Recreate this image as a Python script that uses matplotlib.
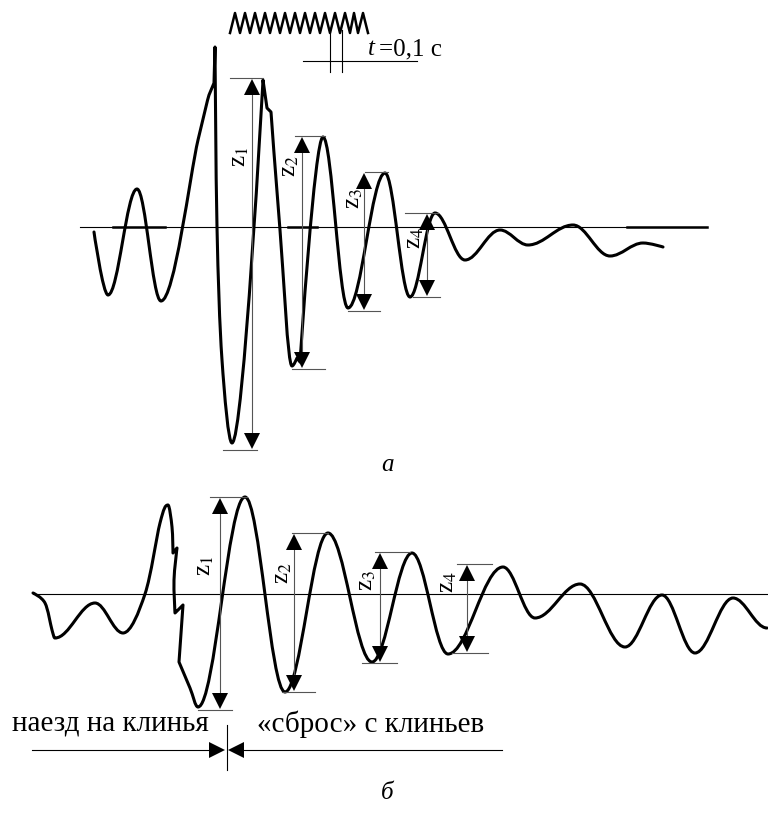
import numpy as np
import matplotlib
matplotlib.use("Agg")
import matplotlib.pyplot as plt
from matplotlib.path import Path
from matplotlib.patches import PathPatch

plt.rcParams['font.family'] = ['Liberation Serif', 'DejaVu Serif']
plt.rcParams['mathtext.fontset'] = 'stix'

# oscillogram "a": vertices (x, y in picture pixels) and vertex kind
# e = extremum (flat tangent), p = smooth pass-through, k = corner
a_x = [94, 108, 137, 161, 198, 209, 214, 215, 217, 222, 232, 263, 267, 271, 280, 292,
       297, 300, 323, 348, 385, 410, 435, 465, 500, 528, 573, 610, 643, 663]
a_y = [232, 295, 189, 301, 140, 95, 83, 47, 227, 360, 443, 80, 108, 112, 230, 366,
       358, 362, 137, 308, 173, 297, 213, 260, 230, 245, 225, 256, 243, 247]
a_kind = ['k', 'e', 'e', 'e', 'p', 'k', 'k', 'k', 'p', 'p', 'e', 'k', 'k', 'k', 'p', 'e',
          'k', 'k', 'e', 'e', 'e', 'e', 'e', 'e', 'e', 'e', 'e', 'e', 'e', 'k']

# oscillogram "б"
b_x = [33, 45, 52, 55, 95, 123, 145, 160, 168, 172, 173, 177, 174, 175, 183, 179,
       190, 198, 245, 285, 328, 372, 412, 448, 503, 535, 580, 625, 662, 695, 733, 767]
b_y = [593, 603, 630, 638, 603, 633, 594, 523, 505, 527, 553, 548, 580, 613, 605, 662,
       688, 707, 497, 692, 533, 662, 553, 654, 567, 618, 584, 647, 595, 653, 598, 628]
b_kind = ['k', 'p', 'p', 'e', 'e', 'e', 'p', 'p', 'e', 'p', 'k', 'k', 'p', 'k', 'k', 'k',
          'p', 'e', 'e', 'e', 'e', 'e', 'e', 'e', 'e', 'e', 'e', 'e', 'e', 'e', 'e', 'e']

# amplitude dimensions: arrow x, top y, bottom y, tick spans, label position
dims_a = {
    'z': ['1', '2', '3', '4'],
    'x': [252, 302, 364, 427],
    'top': [78, 136, 172, 213],
    'bot': [450, 369, 311, 297],
    'top_span': [(230, 263), (295, 325), (365, 388), (405, 438)],
    'bot_span': [(223, 257), (292, 325), (348, 380), (413, 440)],
    'lab': [(240, 157), (290, 166), (354, 198), (415, 238)],
}
dims_b = {
    'z': ['1', '2', '3', '4'],
    'x': [220, 294, 380, 467],
    'top': [497, 533, 552, 564],
    'bot': [710, 692, 663, 653],
    'top_span': [(210, 247), (292, 328), (375, 410), (457, 492)],
    'bot_span': [(198, 232), (282, 315), (362, 397), (452, 488)],
    'lab': [(205, 566), (283, 573), (367, 580), (448, 582)],
}

# timing mark zigzag
zig_x = [230, 235, 240, 245, 250, 255, 260, 265, 270, 275, 280, 285, 290, 295,
         300, 305, 310, 315, 320, 325, 330, 335, 340, 345, 350, 354, 358, 363, 368]
zig_y = [33, 13, 33, 13, 33, 13, 33, 13, 33, 13, 33, 13, 33, 13,
         33, 13, 33, 13, 33, 13, 33, 13, 33, 13, 33, 13, 33, 13, 33]


def curve_path(xs, ys, kinds, k=0.36):
    pts = np.column_stack([xs, ys]).astype(float)
    n = len(pts)

    def tangent(i, dx):
        if kinds[i] == 'e':
            return np.array([k * 3 * dx, 0.0])
        if kinds[i] == 'p':
            lo, hi = max(i - 1, 0), min(i + 1, n - 1)
            return (pts[hi] - pts[lo]) / 2.0
        return np.zeros(2)

    verts = [pts[0]]
    codes = [Path.MOVETO]
    for i in range(n - 1):
        p0, p1 = pts[i], pts[i + 1]
        dx = p1[0] - p0[0]
        c1 = p0 + tangent(i, dx) / 3.0
        c2 = p1 - tangent(i + 1, dx) / 3.0
        verts += [c1, c2, p1]
        codes += [Path.CURVE4] * 3
    return Path(verts, codes)


fig = plt.figure(figsize=(7.68, 8.14), dpi=100)
ax = fig.add_axes([0, 0, 1, 1])
ax.set_xlim(0, 768)
ax.set_ylim(814, 0)
ax.axis('off')

# baselines
ax.plot([80, 706], [227, 227], color='black', lw=0.8)
for x0, x1 in [(113, 165), (288, 317), (627, 707)]:
    ax.plot([x0, x1], [227, 227], color='black', lw=1.8)
ax.plot([33, 768], [594, 594], color='black', lw=0.8)

for xs, ys, kinds in [(a_x, a_y, a_kind), (b_x, b_y, b_kind)]:
    ax.add_patch(PathPatch(curve_path(xs, ys, kinds), fill=False,
                           edgecolor='black', lw=2.2, capstyle='round',
                           joinstyle='round'))


def draw_dims(d):
    for i in range(4):
        x = d['x'][i]
        t, b = d['top'][i], d['bot'][i]
        ax.plot(d['top_span'][i], [t, t], color='#555555', lw=0.8)
        ax.plot(d['bot_span'][i], [b, b], color='#555555', lw=0.8)
        ax.plot([x, x], [t + 10, b - 10], color='#555555', lw=0.8)
        ax.plot(x, t + 9, marker='^', color='black', ms=11, mew=0)
        ax.plot(x, b - 9, marker='v', color='black', ms=11, mew=0)
        lx, ly = d['lab'][i]
        ax.text(lx, ly, 'z$_{' + d['z'][i] + '}$', rotation=90, fontsize=18,
                ha='center', va='center')


draw_dims(dims_a)
draw_dims(dims_b)

# timing mark
ax.plot(zig_x, zig_y, color='black', lw=1.8)
ax.plot([303, 417], [61, 61], color='black', lw=0.8)
ax.plot([330, 330], [30, 72], color='black', lw=0.8)
ax.plot([342, 342], [30, 72], color='black', lw=0.8)
ax.text(368, 49, 't', fontsize=18, style='italic', ha='left', va='center')
ax.text(379, 49, '=0,1 с', fontsize=18, ha='left', va='center')

# captions
ax.text(387, 465, 'а', fontsize=18, style='italic', ha='center', va='center')
ax.text(387, 793, 'б', fontsize=18, style='italic', ha='center', va='center')

# wedge run-on / drop-off annotation
ax.text(12, 724, 'наезд на клинья', fontsize=21, ha='left', va='center')
ax.text(257, 724, '«сброс» с клиньев', fontsize=21, ha='left', va='center')
ax.plot([32, 215], [750, 750], color='black', lw=0.8)
ax.plot([237, 502], [750, 750], color='black', lw=0.8)
ax.plot([227, 227], [725, 770], color='black', lw=0.8)
ax.plot(217, 750, marker='>', color='black', ms=12, mew=0)
ax.plot(236, 750, marker='<', color='black', ms=12, mew=0)

fig.savefig('out.png', dpi=100)
